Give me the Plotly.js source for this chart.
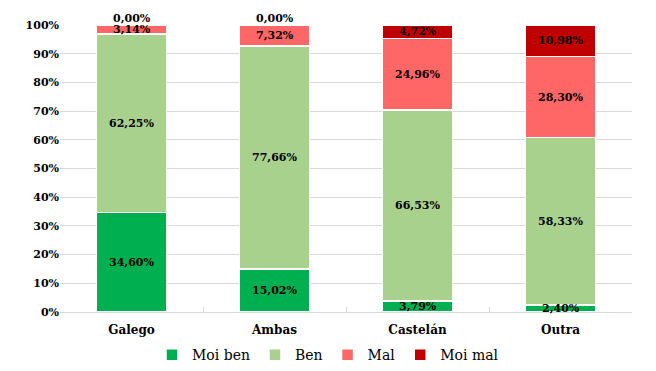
<!DOCTYPE html>
<html><head><meta charset="utf-8">
<script src="https://cdn.plot.ly/plotly-3.0.1.min.js"></script>
<style>html,body{margin:0;padding:0;background:#fff}</style>
</head><body>
<div id="chart" style="width:656px;height:371px"></div>
<script>
const categories = ["Galego", "Ambas", "Castelán", "Outra"];
const seriesNames = ["Moi ben", "Ben", "Mal", "Moi mal"];
const moiBen = [34.60, 15.02, 3.79, 2.40];
const ben = [62.25, 77.66, 66.53, 58.33];
const mal = [3.14, 7.32, 24.96, 28.30];
const moiMal = [0.00, 0.00, 4.72, 10.98];
const yTickVals = [0,10,20,30,40,50,60,70,80,90,100];
const yTickText = ["0%","10%","20%","30%","40%","50%","60%","70%","80%","90%","100%"];
const colors = ["#00B050", "#A9D18E", "#FF6666", "#C00000"];
const series = [moiBen, ben, mal, moiMal];
const FONT = "DejaVu Serif";
const fmt = v => v.toFixed(2).replace('.', ',') + '%';

const traces = series.map((vals, i) => ({
  type: 'bar', name: seriesNames[i], x: categories, y: vals,
  marker: {color: colors[i], line: {color: '#ffffff', width: 1.5}},
  hoverinfo: 'none'
}));

const annotations = [];
categories.forEach((c, ci) => {
  let cum = 0;
  series.forEach((vals, si) => {
    const v = vals[ci];
    annotations.push({
      x: c, y: cum + v / 2, xref: 'x', yref: 'y', text: '<b>' + fmt(v) + '</b>',
      showarrow: false, yshift: v === 0 ? 7 : 0,
      font: {family: FONT, size: 11, color: '#000'}
    });
    cum += v;
  });
});

const layout = {
  width: 656, height: 371,
  margin: {l: 60, r: 24, t: 25, b: 59},
  barmode: 'stack', bargap: 0.51,
  paper_bgcolor: '#fff', plot_bgcolor: '#fff',
  font: {family: FONT, color: '#000'},
  xaxis: {
    tickfont: {family: FONT, size: 12, color: '#000'},
    showline: true, linecolor: '#d9d9d9', linewidth: 1,
    ticks: 'inside', tickson: 'boundaries', ticklen: 5, tickcolor: '#d9d9d9',
    ticklabelstandoff: 7,
    tickprefix: '<b>', ticksuffix: '</b>', fixedrange: true
  },
  yaxis: {
    range: [0, 100], tickvals: yTickVals, ticktext: yTickText.map(t => '<b>' + t + '</b>'),
    tickfont: {family: FONT, size: 11, color: '#000'},
    showgrid: true, gridcolor: '#d9d9d9', gridwidth: 1, zeroline: false,
    ticklen: 0, ticks: '', fixedrange: true
  },
  legend: {
    orientation: 'h', x: 0.5, xref: 'container', xanchor: 'center',
    y: 0.043, yref: 'container', yanchor: 'middle',
    font: {family: FONT, size: 14, color: '#000'}, itemwidth: 30, traceorder: 'normal'
  },
  annotations: annotations,
  showlegend: true
};
Plotly.newPlot('chart', traces, layout, {displayModeBar: false, staticPlot: true});
</script>
</body></html>
